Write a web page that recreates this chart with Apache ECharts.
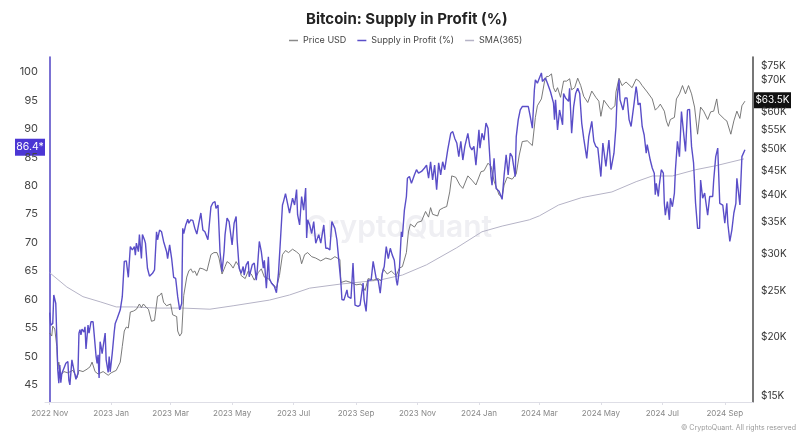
<!DOCTYPE html>
<html>
<head>
<meta charset="utf-8">
<title>Bitcoin: Supply in Profit (%)</title>
<style>
html, body { margin: 0; padding: 0; background: #fff; }
#main { width: 809px; height: 441px; }
</style>
<script src="https://cdn.jsdelivr.net/npm/echarts@6/dist/echarts.min.js"></script>
</head>
<body>
<div id="main"></div>
<script>
// all days are counted from 2022-11-01
const xTickDays = [0, 61, 120, 181, 242, 304, 365, 426, 486, 547, 608, 670];
const xTickLabels = ['2022 Nov', '2023 Jan', '2023 Mar', '2023 May', '2023 Jul', '2023 Sep', '2023 Nov', '2024 Jan', '2024 Mar', '2024 May', '2024 Jul', '2024 Sep'];
const leftTicks = [45, 50, 55, 60, 65, 70, 75, 80, 85, 90, 95, 100];
const rightTicks = [15, 20, 25, 30, 35, 40, 45, 50, 55, 60, 70, 75]; // $K

const profitDays = [0,1,3,4,5,6,7,8,9,10,11,12,14,15,16,18,19,20,22,23,24,26,28,29,30,31,32,34,35,36,38,39,41,43,44,46,47,48,49,50,51,52,55,56,58,59,60,62,64,65,67,70,72,74,76,78,80,82,84,85,86,88,89,91,92,94,95,97,99,102,104,106,107,109,111,113,116,117,119,121,123,125,127,129,131,132,133,135,137,138,140,142,144,146,148,150,152,154,157,160,162,164,165,167,169,171,173,174,176,178,179,181,183,185,186,188,190,192,193,195,197,198,201,203,205,206,208,210,212,213,215,217,218,220,223,225,227,229,231,232,234,236,238,241,243,245,246,248,250,252,254,255,256,258,260,262,264,267,269,272,274,276,278,280,283,285,287,289,290,292,295,296,299,301,303,306,308,311,312,314,316,319,321,324,326,328,330,332,334,336,338,340,342,344,345,347,349,350,352,354,355,357,359,362,364,366,369,372,374,376,378,380,382,384,386,388,390,392,395,398,400,402,404,406,408,410,412,415,417,419,421,423,426,427,429,431,433,435,436,438,439,441,443,446,449,451,453,455,457,459,462,463,465,467,469,472,475,477,479,481,482,484,486,488,489,492,494,497,500,501,502,504,506,509,510,512,515,516,518,520,522,524,526,528,530,533,535,538,540,542,544,547,549,552,555,557,560,562,563,565,566,569,571,573,575,577,580,582,583,584,586,588,590,592,593,596,598,600,601,602,604,605,607,609,610,611,613,615,616,618,620,621,623,625,627,628,631,633,635,637,639,641,643,645,646,648,650,653,655,658,659,661,663,665,668,670,672,673,675,677,679,681,682,685,687,690];
const profitValues = [57.7,55.5,55.8,60.8,61.0,59.3,53.5,47.6,45.3,48.5,45.4,47.0,47.9,48.2,48.8,49.1,45.8,45.0,49.4,49.7,47.6,46.0,47.0,54.1,54.7,53.8,54.8,54.3,55.2,51.3,55.5,54.1,56.1,56.1,54.1,50.0,48.8,50.3,46.2,52.6,51.7,50.5,54.1,49.4,47.2,50.0,47.3,50.5,54.3,55.8,56.7,58.2,60.5,66.7,66.8,63.9,69.3,68.7,69.3,67.8,69.9,68.4,71.4,67.2,71.4,70.5,69.9,65.5,64.1,64.6,65.2,71.9,70.5,72.2,71.9,70.2,68.4,67.2,69.6,67.2,63.9,63.7,60.5,58.2,59.3,72.5,71.6,73.1,74.1,73.4,74.0,73.9,72.5,71.5,73.4,75.2,72.2,71.9,70.5,76.3,77.0,77.2,76.0,76.6,68.4,64.9,68.4,71.4,74.3,73.7,73.9,69.6,73.4,74.6,70.5,65.5,64.6,65.8,64.3,66.1,66.7,64.0,66.1,66.4,63.4,65.2,70.2,68.4,65.5,66.9,62.0,67.5,63.7,62.9,62.3,61.2,64.6,70.5,76.6,77.2,78.6,76.9,75.2,77.8,76.6,79.3,74.9,73.1,78.1,75.7,79.6,70.8,74.0,73.1,71.6,73.7,69.9,71.4,69.9,73.1,69.0,69.0,68.7,73.7,72.5,70.5,66.7,62.9,60.0,59.9,61.7,60.5,60.2,66.4,59.0,58.8,59.0,62.9,60.0,57.9,63.4,63.4,66.7,63.7,63.4,61.1,64.6,65.8,69.3,67.2,69.0,67.8,66.9,63.4,62.5,65.2,71.9,71.0,75.7,78.1,81.3,81.6,80.4,81.9,82.8,82.2,82.5,83.1,83.6,81.3,84.2,81.0,83.6,79.3,84.0,81.9,84.2,82.8,86.3,89.2,89.5,88.3,87.5,85.1,87.8,84.5,86.9,89.2,86.9,86.3,86.9,83.6,89.8,86.6,89.2,88.0,91.0,90.1,89.8,81.6,80.1,84.8,79.5,79.0,77.6,81.9,85.4,81.9,85.7,85.1,81.6,88.6,91.6,93.3,93.9,93.9,93.9,92.1,90.1,96.8,98.6,98.0,98.9,99.8,98.3,98.9,98.0,96.5,94.5,91.6,95.1,89.8,93.3,90.7,96.2,95.4,94.8,97.1,89.2,93.9,96.2,97.1,96.2,91.0,88.3,84.8,88.6,91.3,87.8,86.9,86.6,81.6,87.5,83.4,88.0,82.8,85.7,90.4,95.1,98.6,95.1,93.3,95.4,95.4,91.6,90.4,94.5,97.4,96.2,94.2,94.5,90.4,88.9,85.7,87.2,84.5,83.1,82.2,78.4,80.4,78.1,80.1,82.8,82.2,76.9,74.8,77.2,74.0,77.8,76.3,78.7,82.8,87.8,85.1,93.0,93.0,86.0,93.3,93.4,86.9,84.0,76.9,72.5,72.5,81.0,77.8,78.7,74.8,78.1,78.1,81.0,85.1,86.6,76.9,76.6,73.4,76.9,73.4,70.2,72.2,75.2,76.9,81.3,76.6,85.1,86.3];

const priceDays = [0,2,3,5,7,8,9,11,14,18,23,27,29,33,37,40,42,45,48,53,58,61,66,70,72,74,76,78,80,83,86,89,91,93,96,98,101,104,107,109,111,113,116,120,122,126,127,129,131,133,136,138,140,142,144,146,149,152,156,160,163,166,168,171,174,176,179,182,185,188,190,194,197,200,203,207,210,213,217,220,225,228,231,234,237,241,245,248,250,253,256,260,264,269,274,279,283,288,289,294,299,304,309,313,316,321,326,329,331,335,339,342,344,347,350,354,356,358,362,365,369,373,376,378,380,385,387,391,394,397,399,403,407,410,415,419,423,428,431,435,438,441,444,446,449,451,454,459,463,466,469,474,479,482,484,488,491,493,495,498,500,502,504,507,510,513,516,518,521,524,527,530,534,538,542,545,547,550,555,557,561,562,565,568,572,578,582,585,588,593,598,601,604,606,610,612,614,616,620,622,625,628,631,634,637,640,643,646,649,653,656,659,662,664,670,672,676,679,682,685,687,690];
const priceValues = [20.4,20.1,21.1,20.8,19.1,17.1,17.7,16.6,16.9,16.8,17.0,16.4,17.0,16.9,17.1,17.3,17.7,16.9,16.7,16.9,16.6,16.8,17.0,17.7,19.1,20.6,21.0,20.9,22.6,22.7,22.9,23.5,23.1,23.5,23.1,22.9,21.6,21.7,24.4,24.5,24.8,23.7,23.3,23.5,22.3,22.1,20.6,20.1,20.4,24.5,26.8,27.6,27.9,27.4,27.6,27.0,28.0,27.9,27.6,29.9,30.2,30.2,29.4,27.2,28.2,28.9,28.6,28.0,28.9,28.2,27.0,26.6,27.6,27.2,26.4,27.4,27.9,26.8,26.6,26.1,25.4,27.0,29.9,30.5,30.2,30.7,30.3,29.9,28.6,29.9,30.2,29.6,29.4,29.0,29.4,29.2,29.6,29.2,26.1,26.3,26.1,25.8,25.9,25.1,26.6,26.4,26.6,26.3,27.9,27.2,27.6,27.2,27.0,28.0,28.2,30.2,33.4,34.7,34.2,35.0,35.2,36.9,35.9,37.6,36.4,36.1,37.2,37.6,37.8,40.6,43.9,43.6,42.0,41.3,43.9,43.0,42.0,44.8,45.0,46.7,46.0,42.8,41.1,40.0,39.6,42.0,43.6,43.2,44.3,48.6,51.9,52.1,50.9,58.4,61.8,63.9,69.4,71.3,71.3,72.2,67.5,66.1,67.5,64.4,69.7,69.7,70.5,66.8,67.5,70.7,68.2,64.7,62.8,66.4,64.4,63.2,58.7,63.5,61.4,60.7,61.8,66.1,70.7,68.2,69.4,67.5,70.4,69.7,68.2,66.1,63.9,60.5,61.4,62.3,60.2,57.4,55.9,57.8,58.4,63.9,65.5,68.2,65.5,68.2,65.5,61.4,53.8,61.4,60.2,57.8,60.0,60.2,63.9,59.5,57.8,57.4,53.8,57.4,60.2,58.1,61.8,63.2];

const smaDays = [0,17,33,50,66,83,106,132,159,182,218,238,258,288,327,350,374,404,429,449,476,486,505,528,558,582,598,618,641,661,689];
const smaValues = [64.7,62.2,60.5,59.6,58.7,58.7,58.5,58.5,58.3,58.9,59.9,60.8,62.0,62.7,63.4,64.3,66.1,69.1,71.9,72.9,74.0,74.7,76.6,77.9,78.9,80.7,81.7,81.7,82.8,83.5,84.7];

function toPoints(days, values) {
    return days.map((day, i) => [day, values[i]]);
}

let chart = echarts.init(document.getElementById('main'));
const fontName = 'Inter, "Noto Sans", sans-serif';
const blue = '#5a4ec8';

chart.setOption({
    animation: false,
    textStyle: { fontFamily: fontName },
    title: {
        text: 'Bitcoin: Supply in Profit (%)',
        left: 301,
        top: 7,
        textStyle: { fontSize: 15, fontWeight: 'bold', color: '#222', fontFamily: fontName }
    },
    legend: {
        top: 31,
        left: 284,
        icon: 'rect',
        itemWidth: 9,
        itemHeight: 1.5,
        itemGap: 11,
        textStyle: { fontSize: 9, color: '#444' },
        data: ['Price USD', 'Supply in Profit (%)', 'SMA(365)']
    },
    grid: { left: 45, right: 56, top: 57, bottom: 39 },
    xAxis: {
        type: 'value',
        min: -4.7,
        max: 698,
        splitLine: { show: false },
        axisLine: { lineStyle: { color: '#dedee6', width: 1 } },
        axisTick: { show: true, length: 3, lineStyle: { color: '#dedee6' }, customValues: xTickDays },
        axisLabel: {
            customValues: xTickDays,
            fontSize: 8,
            color: '#888',
            margin: 8,
            formatter: (value) => xTickLabels[xTickDays.indexOf(value)]
        }
    },
    yAxis: [
        {
            type: 'value',
            position: 'left',
            min: 42,
            max: 102.6,
            splitLine: { show: false },
            axisLine: { show: true, lineStyle: { color: blue, width: 1.6 } },
            axisTick: { show: false },
            axisLabel: { customValues: leftTicks, fontSize: 11, color: '#444', margin: 7 }
        },
        {
            type: 'log',
            position: 'right',
            min: 14.57,
            max: 78.4,
            splitLine: { show: false },
            minorSplitLine: { show: false },
            axisLine: { show: true, lineStyle: { color: '#555', width: 1.6 } },
            axisTick: { show: false },
            axisLabel: {
                customValues: rightTicks,
                fontSize: 10,
                color: '#333',
                margin: 8,
                formatter: (value) => '$' + Math.round(value) + 'K'
            }
        }
    ],
    series: [
        {
            name: 'Price USD',
            type: 'line',
            yAxisIndex: 1,
            showSymbol: false,
            z: 2,
            lineStyle: { color: '#6b6b6b', width: 0.9 },
            itemStyle: { color: '#8a8a8a' },
            data: toPoints(priceDays, priceValues)
        },
        {
            name: 'Supply in Profit (%)',
            type: 'line',
            showSymbol: false,
            z: 3,
            lineStyle: { color: blue, width: 1.4 },
            itemStyle: { color: blue },
            data: toPoints(profitDays, profitValues)
        },
        {
            name: 'SMA(365)',
            type: 'line',
            showSymbol: false,
            z: 1,
            lineStyle: { color: '#b5b3c6', width: 1 },
            itemStyle: { color: '#b5b3c6' },
            data: toPoints(smaDays, smaValues)
        }
    ]
});

// the tags sit on the axes at the latest values
let leftTagY = chart.convertToPixel({ yAxisIndex: 0 }, 86.4) - 2;
let rightTagY = chart.convertToPixel({ yAxisIndex: 1 }, 63.5);

chart.setOption({
    graphic: [
        {
            type: 'text', left: 305, top: 213, silent: true, z: 0,
            style: { text: 'CryptoQuant', font: '600 30px ' + fontName, fill: '#efeff3' }
        },
        {
            type: 'group', left: 15, top: leftTagY - 8.5, z: 10,
            children: [
                { type: 'rect', shape: { x: 0, y: 0, width: 30, height: 17 }, style: { fill: '#4b36d4' } },
                { type: 'text', x: 15, y: 8.5, style: { text: '86.4*', font: '10.5px ' + fontName, fill: '#fff', align: 'center', verticalAlign: 'middle' } }
            ]
        },
        {
            type: 'group', left: 754, top: rightTagY - 8, z: 10,
            children: [
                { type: 'rect', shape: { x: 0, y: 0, width: 37, height: 16 }, style: { fill: '#111' } },
                { type: 'text', x: 18.5, y: 8, style: { text: '$63.5K', font: '10px ' + fontName, fill: '#fff', align: 'center', verticalAlign: 'middle' } }
            ]
        },
        {
            type: 'text', left: 681, top: 424, silent: true,
            style: { text: '© CryptoQuant. All rights reserved', font: '7px ' + fontName, fill: '#999' }
        }
    ]
});
</script>
</body>
</html>
